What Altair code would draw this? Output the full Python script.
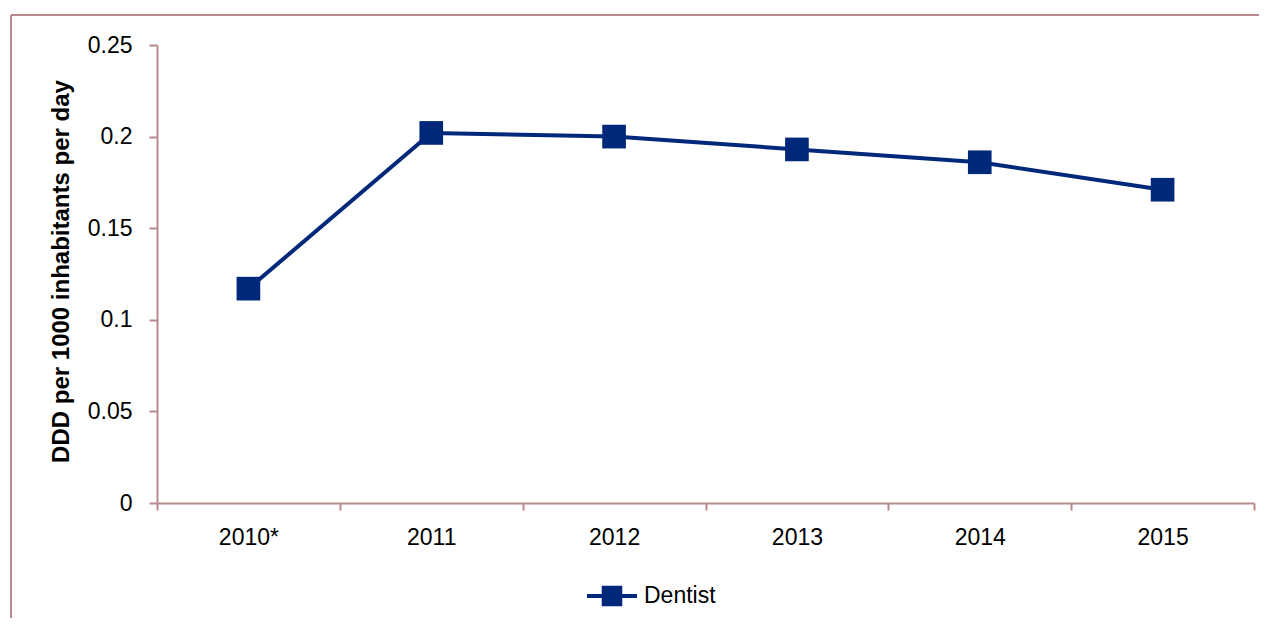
import altair as alt
import pandas as pd

years = ["2010*", "2011", "2012", "2013", "2014", "2015"]
values = [0.117, 0.202, 0.200, 0.193, 0.186, 0.171]
series = ["Dentist"] * len(years)

NAVY = "#00287A"
AXIS = "#B8898D"
FONT = "Liberation Sans"

df = pd.DataFrame({"year": years, "value": values, "series": series})

x = alt.X(
    "year:N",
    sort=years,
    scale=alt.Scale(type="band", paddingInner=0, paddingOuter=0),
    axis=alt.Axis(
        title=None,
        tickBand="extent",
        tickSize=7,
        labelPadding=16,
        labelAngle=0,
        labelFontSize=23,
        labelFont=FONT,
        labelColor="black",
        domainColor=AXIS,
        tickColor=AXIS,
        domainWidth=2,
        tickWidth=2,
        grid=False,
    ),
)
y = alt.Y(
    "value:Q",
    scale=alt.Scale(domain=[0, 0.25], nice=False),
    axis=alt.Axis(
        title="DDD per 1000 inhabitants per day",
        values=[0, 0.05, 0.1, 0.15, 0.2, 0.25],
        format=".2~f",
        tickSize=8,
        labelPadding=17,
        labelFontSize=23,
        labelFont=FONT,
        labelColor="black",
        domainColor=AXIS,
        tickColor=AXIS,
        domainWidth=2,
        tickWidth=2,
        grid=False,
        titleFont=FONT,
        titleFontSize=24,
        titleFontWeight="bold",
        titleColor="black",
        titleX=-84,
        titleY=226,
    ),
)
color = alt.Color(
    "series:N",
    scale=alt.Scale(domain=["Dentist"], range=[NAVY]),
    legend=alt.Legend(
        title=None,
        orient="none",
        legendX=428,
        legendY=524,
        symbolType="M-1,0L1,0M-0.33,-0.33L0.33,-0.33L0.33,0.33L-0.33,0.33Z",
        symbolSize=2500,
        symbolStrokeWidth=4,
        symbolFillColor=NAVY,
        symbolStrokeColor=NAVY,
        symbolOpacity=1,
        labelFont=FONT,
        labelFontSize=23,
        labelColor="black",
        labelOffset=5,
    ),
)

line = alt.Chart(df).mark_line(strokeWidth=4).encode(x=x, y=y, color=color)
points = alt.Chart(df).mark_point(
    shape="square", filled=True, size=560, opacity=1
).encode(x=x, y=y, color=color)

one = alt.Data(values=[{"a": 1}])
border_top = alt.Chart(one).mark_rule(color=AXIS, strokeWidth=2).encode(
    x=alt.value(-146), x2=alt.value(1110), y=alt.value(-30)
)
border_left = alt.Chart(one).mark_rule(color=AXIS, strokeWidth=2).encode(
    x=alt.value(-146), y=alt.value(-30), y2=alt.value(600)
)

chart = (
    alt.layer(border_top, border_left, line, points)
    .properties(
        width=1097,
        height=458,
        autosize="none",
        padding={"left": 149, "top": 37, "right": 5, "bottom": 115},
    )
    .configure(background="white")
    .configure_view(stroke=None)
)

chart.save("out.html", embed_options={"renderer": "svg", "actions": False})
